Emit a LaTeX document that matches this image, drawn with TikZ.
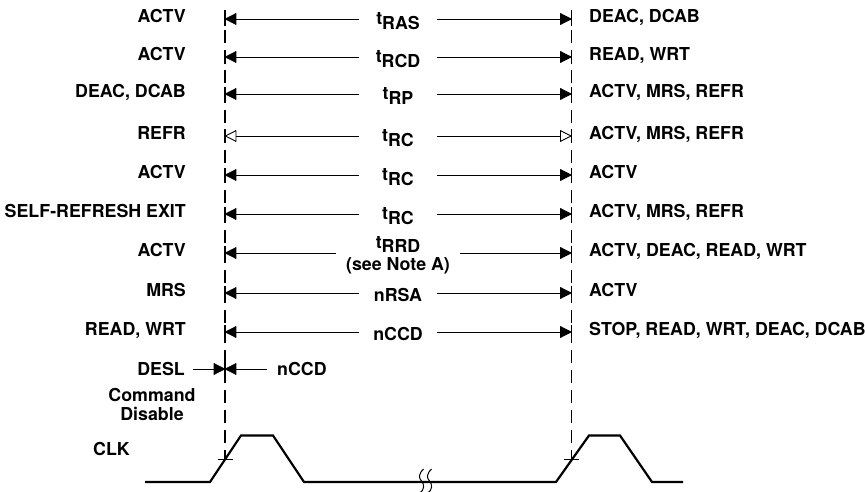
\documentclass[tikz,border=0pt]{standalone}
\usepackage{fontspec}
\setmainfont{TeX Gyre Heros}
\usetikzlibrary{arrows.meta}
\newcommand\tsb[1]{t\raisebox{-4.5pt}{#1}}
% #1 id, #2 line y, #3 left text, #4 middle text, #5 right text, #6 left arrow style, #7 right arrow style
\newcommand\timingrow[7]{%
  \coordinate (L#1) at (225,#2);
  \coordinate (R#1) at (571.5,#2);
  \node[ltxt] (a#1) at (186,{#2+3.8}) {#3};
  \node[timelbl] (m#1) at (398,{#2+2}) {#4};
  \node[rtxt] (b#1) at (589,{#2+3.8}) {#5};
  \draw[#6] (m#1.west |- L#1) -- (L#1);
  \draw[#7] (m#1.east |- R#1) -- (R#1);
  \draw[vtick] ([yshift=-7pt]L#1) -- ([yshift=7pt]L#1);
  \draw[vtick] ([yshift=-7pt]R#1) -- ([yshift=7pt]R#1);
}
\begin{document}
\begin{tikzpicture}[x=1pt,y=-1pt,
  txt/.style={font=\fontsize{17.8}{20}\selectfont\bfseries, inner sep=0pt},
  ltxt/.style={txt, anchor=base east},
  rtxt/.style={txt, anchor=base west},
  timelbl/.style={txt, anchor=center, minimum width=78pt, inner xsep=10pt, align=center},
  arr/.style={line width=0.9pt, -{Triangle[length=12pt 0 0,width=12pt 0 0,round]}},
  oarr/.style={line width=0.9pt, -{Triangle[open,length=12pt 0 0,width=12pt 0 0,round]}},
  vguide/.style={line width=1.3pt, dash pattern=on 13pt off 7pt},
  vtick/.style={line width=1.3pt},
  clkline/.style={line width=2.2pt, line join=miter},
  brk/.style={line width=1pt},
]
\useasboundingbox (0,0) rectangle (865,492);

% guide lines
\coordinate (LT) at (225,10);
\coordinate (LB) at (225,459);
\coordinate (RT) at (571.5,10);
\coordinate (RB) at (571.5,459.5);
\draw[vguide] (LT) -- (LB);
\draw[vguide] (RT) -- (RB);

\timingrow{1}{19}{ACTV}{\tsb{RAS}}{DEAC, DCAB}{arr}{arr}
\timingrow{2}{57}{ACTV}{\tsb{RCD}}{READ, WRT}{arr}{arr}
\timingrow{3}{94}{DEAC, DCAB}{\tsb{RP}}{ACTV, MRS, REFR}{arr}{arr}
\timingrow{4}{136}{REFR}{\tsb{RC}}{ACTV, MRS, REFR}{oarr}{oarr}
\timingrow{5}{175}{ACTV}{\tsb{RC}}{ACTV}{arr}{arr}
\timingrow{6}{214}{SELF-REFRESH EXIT}{\tsb{RC}}{ACTV, MRS, REFR}{arr}{arr}
\timingrow{7}{253}{ACTV}{\tsb{RRD}\\[2pt](see Note A)}{ACTV, DEAC, READ, WRT}{arr}{arr}
\timingrow{8}{293}{MRS}{nRSA}{ACTV}{arr}{arr}
\timingrow{9}{332}{READ, WRT}{nCCD}{STOP, READ, WRT, DEAC, DCAB}{arr}{arr}

% DESL row
\coordinate (LD) at (225,369);
\node[ltxt] (desl) at (185,375) {DESL};
\node[rtxt] (nccdb) at (277,375) {nCCD};
\draw[arr] ([xshift=8pt]desl.east |- LD) -- (LD);
\draw[arr] ([xshift=-10pt]nccdb.west |- LD) -- (LD);
\draw[vtick] ([yshift=-7pt]LD) -- ([yshift=7pt]LD);

\node[txt, anchor=base] (cmd) at (152,401.7) {Command};
\node[txt, anchor=base] (dis) at (152,420.7) {Disable};
\node[txt, anchor=base west] (clk) at (93,455.7) {CLK};

% clock waveform
\coordinate (c0) at (145,482);
\coordinate (c1) at (210,482);
\coordinate (c2) at (241,435.5);
\coordinate (c3) at (273,435.5);
\coordinate (c4) at (304,482);
\coordinate (c5) at (556,482);
\coordinate (c6) at (589,435.5);
\coordinate (c7) at (620,435.5);
\coordinate (c8) at (652,482);
\coordinate (c9) at (683,482);
\draw[clkline] (c0) -- (c1) -- (c2) -- (c3) -- (c4) -- (c5) -- (c6) -- (c7) -- (c8) -- (c9);

% crossing ticks
\draw[line width=1pt] ([xshift=-7.5pt]LB) -- ([xshift=7.5pt]LB);
\draw[line width=1pt] ([xshift=-7.5pt]RB) -- ([xshift=7.5pt]RB);

% break marks
\draw[brk] (423.5,469) .. controls (418.5,474) and (418.5,478) .. (421.5,481) .. controls (424.5,484) and (424.5,490) .. (420,493);
\draw[brk] (431.5,469) .. controls (426.5,474) and (426.5,478) .. (429.5,481) .. controls (432.5,484) and (432.5,490) .. (428,493);
\end{tikzpicture}
\end{document}
